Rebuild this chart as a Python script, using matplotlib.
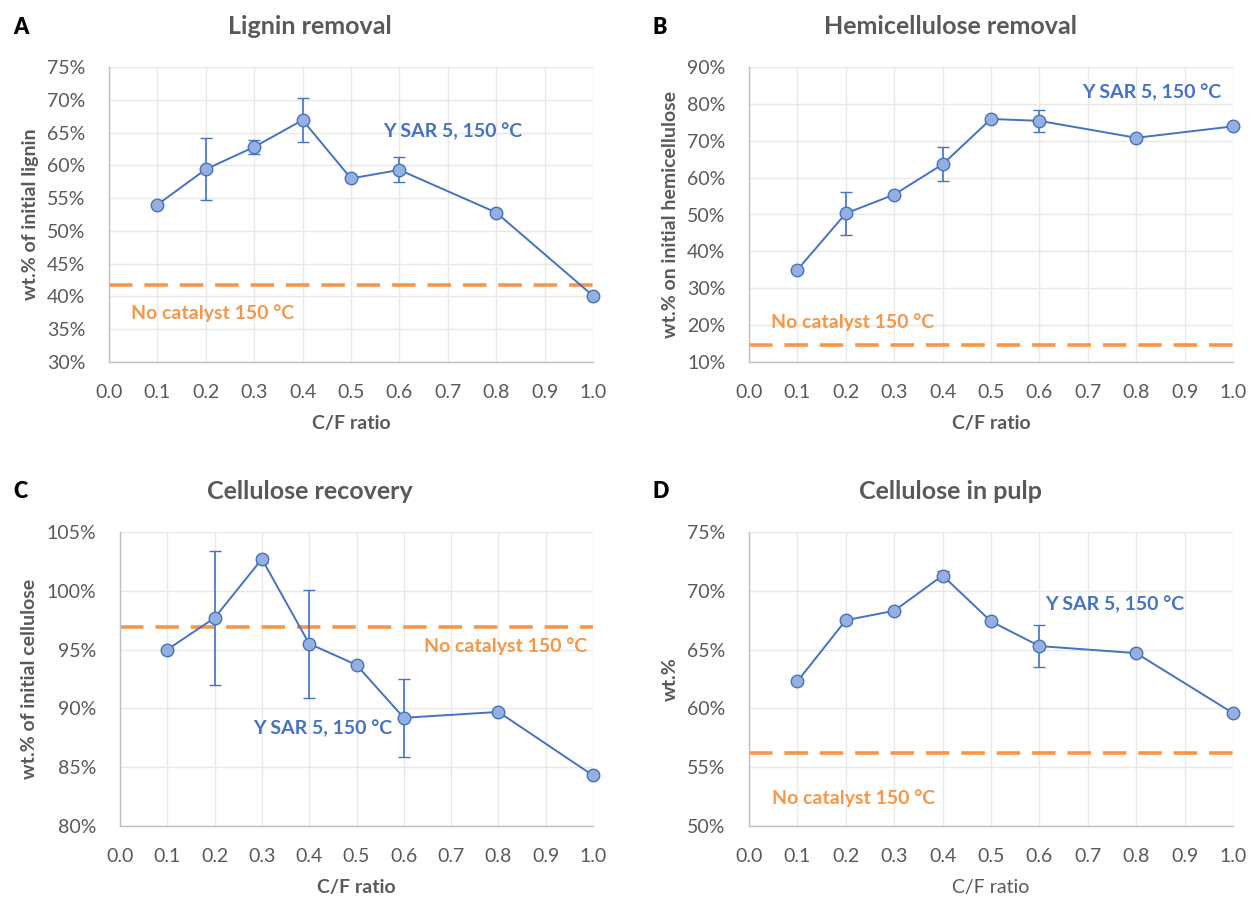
import matplotlib
matplotlib.use("Agg")
import matplotlib.pyplot as plt
from matplotlib.ticker import FuncFormatter, MultipleLocator

plt.rcParams['font.family'] = ['Lato', 'DejaVu Sans']

cf = [0.1, 0.2, 0.3, 0.4, 0.5, 0.6, 0.8, 1.0]

lignin = [54.0, 59.4, 62.8, 66.9, 58.0, 59.3, 52.8, 40.1]
lignin_err = [0.2, 4.7, 1.1, 3.3, 0.2, 1.9, 0.2, 0.2]
lignin_nocat = 41.7

hemi = [35.0, 50.3, 55.4, 63.6, 75.9, 75.4, 70.8, 73.9]
hemi_err = [0.3, 5.9, 0.3, 4.6, 0.3, 3.0, 0.3, 0.3]
hemi_nocat = 14.5

cell_rec = [95.0, 97.7, 102.7, 95.5, 93.7, 89.2, 89.7, 84.3]
cell_rec_err = [0.1, 5.7, 0.3, 4.6, 0.1, 3.3, 0.1, 0.1]
cell_rec_nocat = 96.9

cell_pulp = [62.3, 67.5, 68.3, 71.3, 67.4, 65.3, 64.7, 59.6]
cell_pulp_err = [0.2, 0.2, 0.1, 0.4, 0.1, 1.8, 0.1, 0.1]
cell_pulp_nocat = 56.2

titles = ["Lignin removal", "Hemicellulose removal", "Cellulose recovery", "Cellulose in pulp"]
letters = ["A", "B", "C", "D"]
ylabels = ["wt.% of initial lignin", "wt.% on initial hemicellulose",
           "wt.% of initial cellulose", "wt.%"]
xlabel = "C/F ratio"
series_label = "Y SAR 5, 150 °C"
nocat_label = "No catalyst 150 °C"

BLUE = "#4472C4"
ORANGE = "#F79646"
GRAY = "#595959"

fig = plt.figure(figsize=(12.5, 8.97), dpi=100)
W, H = 1250, 897

def add_ax(l, r, t, b):
    return fig.add_axes([l / W, 1 - b / H, (r - l) / W, (b - t) / H])

axes = [add_ax(109, 593, 67, 362), add_ax(749, 1233, 67, 362),
        add_ax(120, 593, 532, 826), add_ax(749, 1233, 532, 826)]

data = [(lignin, lignin_err, lignin_nocat, (30, 75, 5)),
        (hemi, hemi_err, hemi_nocat, (10, 90, 10)),
        (cell_rec, cell_rec_err, cell_rec_nocat, (80, 105, 5)),
        (cell_pulp, cell_pulp_err, cell_pulp_nocat, (50, 75, 5))]

series_pos = [(0.566, 65.2, 'left'), (0.688, 83.2, 'left'), (0.281, 88.3, 'left'), (0.612, 68.85, 'left')]
nocat_pos = [(0.045, 37.5, 'left'), (0.045, 20.9, 'left'), (0.987, 95.3, 'right'), (0.048, 52.4, 'left')]
letter_x = [13, 653, 13, 653]
title_y = [27, 27, 491, 491]
title_x = [310, 950, 310, 950]

for i, ax in enumerate(axes):
    vals, errs, nocat, (ymin, ymax, ystep) = data[i]
    ax.set_xlim(0, 1.0)
    ax.set_ylim(ymin, ymax)
    ax.xaxis.set_major_locator(MultipleLocator(0.1))
    ax.yaxis.set_major_locator(MultipleLocator(ystep))
    ax.xaxis.set_major_formatter(FuncFormatter(lambda v, p: f"{v:.1f}"))
    ax.yaxis.set_major_formatter(FuncFormatter(lambda v, p: f"{v:.0f}%"))
    ax.grid(True, color="#E8E8E8", linewidth=1.0, zorder=0)
    ax.set_axisbelow(True)
    for s in ['top', 'right']:
        ax.spines[s].set_visible(False)
    for s in ['left', 'bottom']:
        ax.spines[s].set_color("#BFBFBF")
        ax.spines[s].set_linewidth(1.0)
    ax.tick_params(axis='y', length=0, labelsize=14, labelcolor=GRAY, pad=17)
    ax.tick_params(axis='x', length=0, labelsize=14, labelcolor=GRAY, pad=16)
    ax.axhline(nocat, color=ORANGE, linestyle=(0, (6.5, 3.3)), linewidth=2.6, zorder=2, clip_on=False)
    ax.errorbar(cf, vals, yerr=errs, color=BLUE, linewidth=1.4, capsize=4, elinewidth=1.2,
                capthick=1.2, marker='o', markersize=9, markerfacecolor="#95B0DE",
                markeredgecolor=BLUE, markeredgewidth=1.0, zorder=3, clip_on=False)
    sx, sy, sha = series_pos[i]
    ax.text(sx, sy, series_label, color=BLUE, fontsize=14, fontweight='bold', ha=sha, va='center')
    nx, ny, nha = nocat_pos[i]
    ax.text(nx, ny, nocat_label, color=ORANGE, fontsize=14, fontweight='bold', ha=nha, va='center')
    ax.set_ylabel(ylabels[i], fontsize=14, fontweight='bold', color=GRAY, labelpad=6)
    ax.set_xlabel(xlabel, fontsize=14, fontweight=('normal' if i == 3 else 'bold'), color=GRAY, labelpad=10)
    fig.text(letter_x[i] / W, 1 - title_y[i] / H, letters[i], fontsize=15.5, fontweight='heavy',
             color='black', ha='left', va='center')
    fig.text(title_x[i] / W, 1 - title_y[i] / H, titles[i], fontsize=18, fontweight='bold',
             color=GRAY, ha='center', va='center')

fig.savefig("out.png", dpi=100, facecolor='white')
